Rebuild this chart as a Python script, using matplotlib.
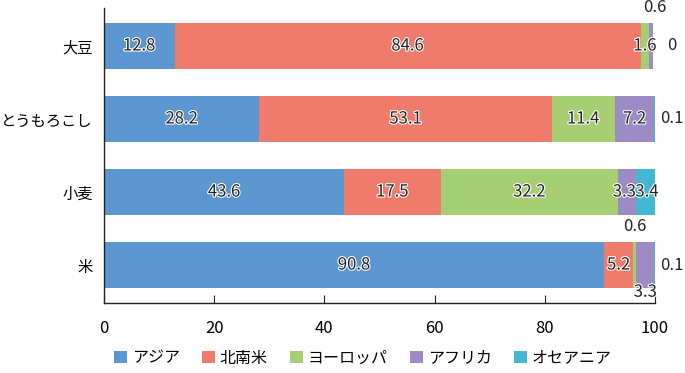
import matplotlib
matplotlib.use("Agg")
import matplotlib.pyplot as plt
import matplotlib.patheffects as pe
import numpy as np

plt.rcParams['font.family'] = ['Noto Sans CJK JP', 'DejaVu Sans']

crops = ['大豆', 'とうもろこし', '小麦', '米']
regions = ['アジア', '北南米', 'ヨーロッパ', 'アフリカ', 'オセアニア']
asia = [12.8, 28.2, 43.6, 90.8]
americas = [84.6, 53.1, 17.5, 5.2]
europe = [1.6, 11.4, 32.2, 0.6]
africa = [0.6, 7.2, 3.3, 3.3]
oceania = [0, 0.1, 3.4, 0.1]
series = [asia, americas, europe, africa, oceania]
colors = ['#5b96d0', '#ee7b6b', '#a6ce72', '#9d8bc4', '#44b8d2']

# where a label goes when the segment is too small to hold it: (side, x offset in points)
placement = {
    (0, 3): ('above', 3), (0, 4): ('right', 10),
    (1, 4): ('right', 4),
    (2, 3): ('inside', -2), (2, 4): ('inside', 1),
    (3, 2): ('above', 0), (3, 3): ('below', 0), (3, 4): ('right', 4),
}

fig = plt.figure(figsize=(6.85, 3.73), dpi=100)
ax = fig.add_axes([104 / 685, 1 - 303 / 373, 551 / 685, 295 / 373])

y = np.arange(len(crops))
bar_h = 0.63
left = np.zeros(len(crops))
fs = 12
halo = [pe.withStroke(linewidth=1.6, foreground='white')]
for j, (name, vals, c) in enumerate(zip(regions, series, colors)):
    vals = np.array(vals)
    ax.barh(y, vals, left=left, height=bar_h, color=c, label=name)
    for i in range(len(crops)):
        v = vals[i]
        pos, dx = placement.get((i, j), ('inside', 0))
        cx = left[i] + v / 2
        txt = f'{v:g}'
        if pos == 'inside':
            ax.annotate(txt, (cx, y[i]), xytext=(dx, 0), textcoords='offset points',
                        ha='center', va='center', fontsize=fs,
                        color='#222222', path_effects=halo)
        elif pos == 'above':
            ax.annotate(txt, (cx, y[i] - bar_h / 2), xytext=(dx, 11), textcoords='offset points',
                        ha='center', va='center', fontsize=fs, color='#222222')
        elif pos == 'below':
            ax.annotate(txt, (cx, y[i] + bar_h / 2), xytext=(dx, -3), textcoords='offset points',
                        ha='center', va='center', fontsize=fs, color='#222222', path_effects=halo)
        else:
            ax.annotate(txt, (left[i] + v, y[i]), xytext=(dx, 0), textcoords='offset points',
                        ha='left', va='center', fontsize=fs, color='#222222')
    left += vals

ax.set_xlim(0, 100)
ax.set_ylim(len(crops) - 0.48, -0.52)
ax.set_yticks(y)
ax.set_yticklabels(crops, fontsize=11)
ax.set_xticks(np.arange(0, 101, 20))
ax.tick_params(axis='x', direction='in', length=6, labelsize=fs, pad=12, color='#222222')
ax.tick_params(axis='y', length=0, pad=8)
for s in ['top', 'right']:
    ax.spines[s].set_visible(False)
for s in ['left', 'bottom']:
    ax.spines[s].set_color('#222222')
    ax.spines[s].set_linewidth(1)

fig.legend(loc='center', bbox_to_anchor=(0.53, 0.04), ncol=5, frameon=False,
           fontsize=11.5, handlelength=0.8, handleheight=0.8, handletextpad=0.3,
           columnspacing=1.4)

fig.savefig('out.png', dpi=100)
